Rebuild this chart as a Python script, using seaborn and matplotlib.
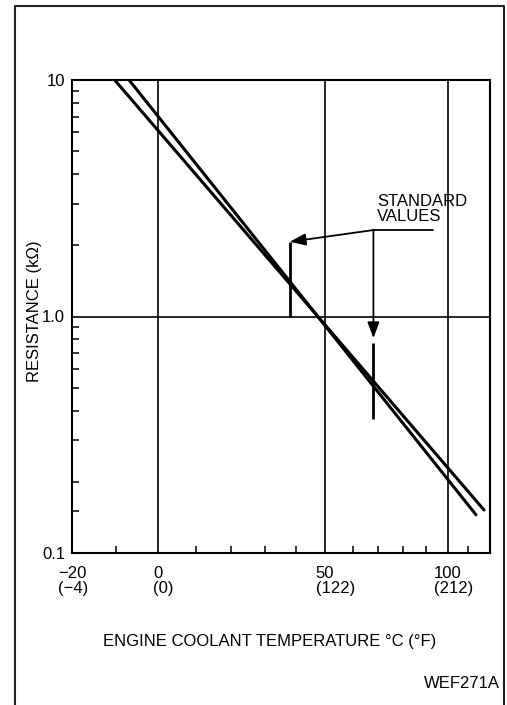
import numpy as np
import pandas as pd
import seaborn as sns
import matplotlib.pyplot as plt
from matplotlib.lines import Line2D

# resistance lines (deg C, kOhm)
curve_a_temp = [-10.4, 117.9]
curve_a_res = [10.0, 0.152]
curve_b_temp = [-7.0, 113.8]
curve_b_res = [10.0, 0.145]

# standard value bars and the note pointing at them
std_temp = [38.0, 68.0]
std_low = [1.0, 0.37]
std_high = [2.07, 0.77]
leader_res = 2.32
leader_end_temp = 93.0
arrow_down_res = 0.81
note_temp = 69.5
note_res = 3.3

x_major = [-20, 0, 50, 100]
x_labels_c = ['−20', '0', '50', '100']
x_labels_f = ['(−4)', '(0)', '(122)', '(212)']
x_minor = [-10, 10, 20, 30, 40, 60, 70, 80, 90, 110]
y_major = [0.1, 1.0, 10]
y_labels = ['0.1', '1.0', '10']
y_minor = [0.15, 0.2, 0.3, 0.4, 0.5, 0.6, 0.7, 0.8, 0.9, 2, 3, 4, 5, 6, 7, 8, 9]

sns.set_theme(style='white')
plt.rcParams['font.family'] = ['Liberation Sans', 'DejaVu Sans']


# temperature axis is drawn on a 1/T (kelvin) scale
def fwd(t):
    with np.errstate(divide='ignore', invalid='ignore'):
        return -1.0 / (np.asarray(t, dtype=float) + 273.15)


def inv(u):
    with np.errstate(divide='ignore', invalid='ignore'):
        return -1.0 / np.asarray(u, dtype=float) - 273.15


df = pd.DataFrame({
    'temp': curve_a_temp + curve_b_temp,
    'res': curve_a_res + curve_b_res,
    'curve': ['a', 'a', 'b', 'b'],
})

fig = plt.figure(figsize=(5.07, 7.05), dpi=100)
ax = fig.add_axes([72 / 507, 1 - 553 / 705, 418 / 507, 473 / 705])

sns.lineplot(data=df, x='temp', y='res', units='curve', estimator=None,
             color='black', lw=2.2, ax=ax, legend=False)

ax.set_yscale('log')
ax.set_xscale('function', functions=(fwd, inv))
ax.set_xlim(-20, 121)
ax.set_ylim(0.1, 10)

ax.set_xticks(x_major)
ax.set_xticklabels([])
ax.set_xticks(x_minor, minor=True)
ax.set_yticks(y_major, y_labels)
ax.set_yticks(y_minor, minor=True)
ax.yaxis.set_minor_formatter(plt.NullFormatter())
ax.xaxis.set_minor_formatter(plt.NullFormatter())

ax.grid(which='major', color='black', lw=1.2)
ax.tick_params(which='both', direction='in', color='black', bottom=True, left=True)
ax.tick_params(which='major', length=0)
ax.tick_params(which='minor', length=5, width=1.1)
ax.tick_params(axis='y', which='major', pad=5, labelsize=12, labelcolor='black')
ax.tick_params(axis='x', labelbottom=False)
for s in ax.spines.values():
    s.set_color('black')
    s.set_linewidth(1.5)

# x tick labels: deg C on top, deg F below
for t, c, f in zip(x_major, x_labels_c, x_labels_f):
    top = ax.annotate(c, xy=(t, 0), xycoords=('data', 'axes fraction'),
                      xytext=(0, -9), textcoords='offset points',
                      ha='center', va='top', fontsize=12, color='black')
    ax.annotate(f, xy=(0, 0), xycoords=top, xytext=(0, 0),
                textcoords='offset points', ha='left', va='top',
                fontsize=12, color='black')

# standard values
ax.vlines(std_temp, std_low, std_high, color='black', lw=2)
ax.plot([std_temp[1], leader_end_temp], [leader_res, leader_res], color='black', lw=1.3)
arrow = dict(arrowstyle='-|>,head_length=0.8,head_width=0.3', color='black',
             lw=1.3, shrinkA=0, shrinkB=0, mutation_scale=12)
ax.annotate('', xy=(std_temp[0], std_high[0]), xytext=(std_temp[1], leader_res),
            arrowprops=arrow)
ax.annotate('', xy=(std_temp[1], arrow_down_res), xytext=(std_temp[1], leader_res),
            arrowprops=arrow)
ax.text(note_temp, note_res, 'STANDARD\nVALUES', ha='left', va='top',
        fontsize=12, linespacing=1.0, color='black')

ax.set_ylabel('RESISTANCE (kΩ)', fontsize=12, va='center', color='black')
ax.yaxis.set_label_coords(-37 / 418, (553 - 311) / 473)
ax.set_xlabel('ENGINE COOLANT TEMPERATURE °C (°F)', fontsize=12, va='baseline', color='black')
ax.xaxis.set_label_coords(198 / 418, -93 / 473)

fig.text(500 / 507, 1 - 688 / 705, 'WEF271A', ha='right', va='baseline',
         fontsize=12, color='black')

# frame around the figure (open at the bottom, as in the scan)
fig.add_artist(Line2D([15 / 507, 15 / 507, 504 / 507, 504 / 507],
                      [-0.02, 1 - 6 / 705, 1 - 6 / 705, -0.02],
                      transform=fig.transFigure, color='#222222', lw=1.5))

fig.savefig('out.png', dpi=100)
